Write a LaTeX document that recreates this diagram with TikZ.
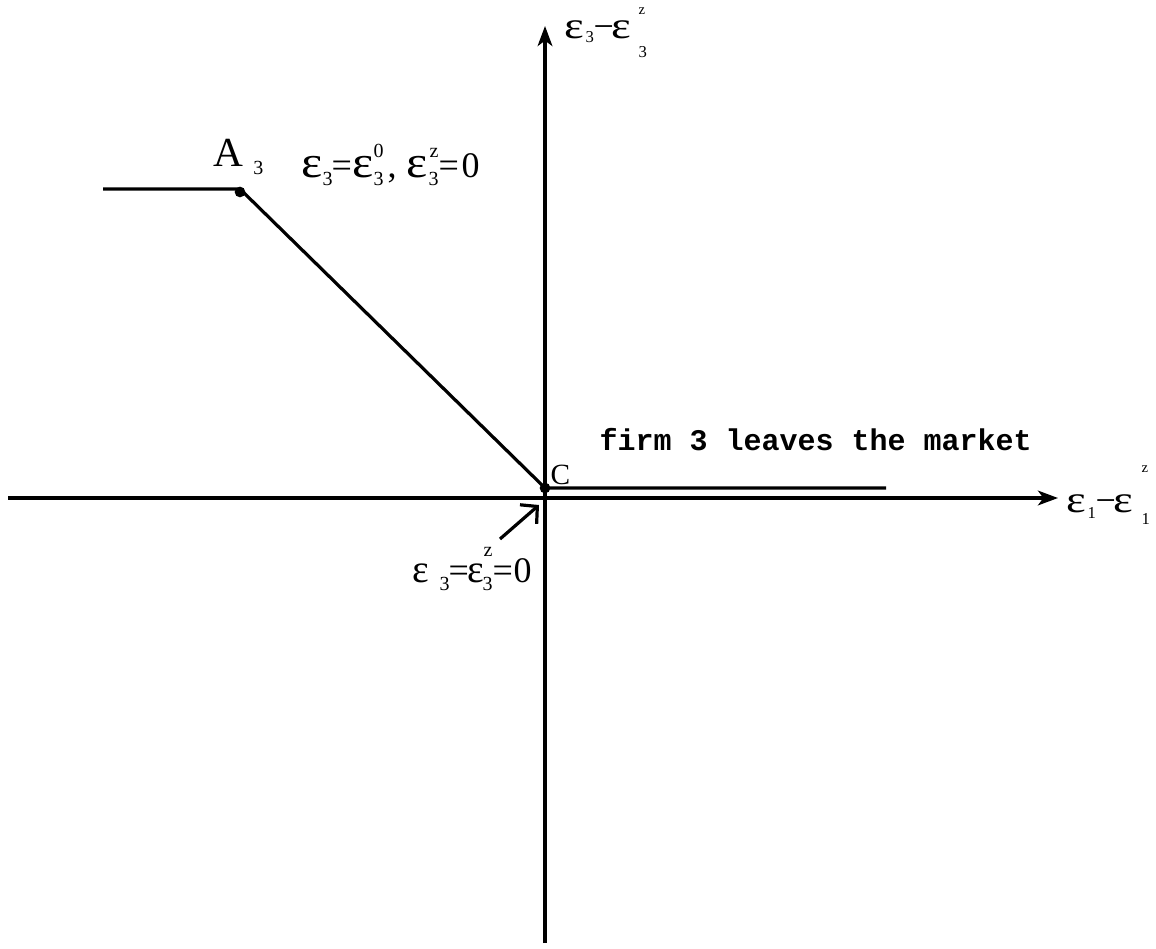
\documentclass[tikz,border=0pt]{standalone}
\usepackage{fontspec}
\setmainfont{Liberation Serif}
\newfontfamily\courfont{Liberation Mono}
\usetikzlibrary{arrows.meta}
\newdimen\pxu \pxu=0.75pt
% piece at horizontal offset #1 px, raised #2 px
\newcommand\pc[3]{\rlap{\hspace*{#1\pxu}\raisebox{#2\pxu}{#3}}}
\newcommand\eps[2]{\scalebox{#1}[#2]{ε}}
\newcommand\eqsf{\fontsize{15}{16}\selectfont}
\newcommand\axsf{\fontsize{12.5}{14}\selectfont}
\newcommand\axzf{\fontsize{11}{12}\selectfont}
\begin{document}
\begin{tikzpicture}[x=0.75pt,y=-0.75pt,line width=2.4pt,
  lbl/.style={inner sep=0pt,anchor=base west,font=\fontsize{27}{30}\selectfont},
  tip/.style={-{Stealth[length=15pt,width=11pt,inset=4pt]}},
  barb/.style={-{Straight Barb[length=9pt,width=19pt,line width=2.4pt]}},
  dot/.style={circle,fill=black,inner sep=0pt,minimum size=8pt}]
\useasboundingbox (0,0) rectangle (1156,949);
\coordinate (xl) at (8,498);
\coordinate (xr) at (1058,498);
\coordinate (yb) at (545,943);
\coordinate (yt) at (545,26);
\draw[tip] (xl) -- (xr);
\draw[tip] (yb) -- (yt);
\coordinate (a0) at (103,189);
\coordinate (a1) at (240,189);
\node[dot] (A) at (240,192) {};
\node[dot] (C) at (545,488) {};
\coordinate (ce) at (886,488);
\draw (a0) -- (a1) -- (C.center) -- (ce);
% axis labels
\node[lbl] (ylab) at (563,39) {\pc{0}{0}{\eps{1.3}{1.05}}\pc{21}{-4}{\axsf 3}\pc{29}{0}{−}\pc{47}{0}{\eps{1.3}{1.05}}\pc{74}{-19}{\axsf 3}\pc{74}{24}{\axzf z}\phantom{ε}};
\node[lbl] (xlab) at (1065,512) {\pc{0}{0}{\eps{1.3}{1.05}}\pc{21}{-6}{\axsf 1}\pc{29}{0}{−}\pc{47}{0}{\eps{1.3}{1.05}}\pc{75}{-12}{\axsf 1}\pc{75}{40}{\axzf z}\phantom{ε}};
% A3
\node[inner sep=0pt,anchor=base west,font=\fontsize{31}{34}\selectfont] (Alab) at (212,166) {A\hspace{10\pxu}\raisebox{-8\pxu}{\eqsf 3}};
% equation near A3
\node[lbl] (eqA) at (300,177) {\pc{0}{0}{\eps{1.4}{1.25}}\pc{21}{-8}{\eqsf 3}\pc{30}{0}{=}\pc{51}{0}{\eps{1.4}{1.25}}\pc{72}{-8}{\eqsf 3}\pc{72}{20}{\eqsf 0}\pc{86}{0}{,}\pc{105}{0}{\eps{1.4}{1.25}}\pc{127}{-8}{\eqsf 3}\pc{128}{20}{\eqsf z}\pc{137}{0}{=}\pc{160}{0}{0}\phantom{ε}};
\node[inner sep=0pt,anchor=base west,font=\fontsize{22}{26}\selectfont] (Clab) at (549,484) {C};
\node[inner sep=0pt,anchor=west,font=\courfont\bfseries\fontsize{22.5}{26}\selectfont] (firm) at (598,440) {firm 3 leaves the market};
\coordinate (arrs) at (500,539);
\coordinate (arre) at (539,505);
\draw[barb] (arrs) -- (arre);
% equation near C
\node[lbl] (eqC) at (411,582) {\pc{0}{0}{\eps{1.1}{1.1}}\pc{27}{-8}{\eqsf 3}\pc{36}{0}{=}\pc{55}{0}{\eps{1.1}{1.1}}\pc{70}{-8}{\eqsf 3}\pc{71}{26}{\eqsf z}\pc{80}{0}{=}\pc{101}{0}{0}\phantom{ε}};
\end{tikzpicture}
\end{document}
